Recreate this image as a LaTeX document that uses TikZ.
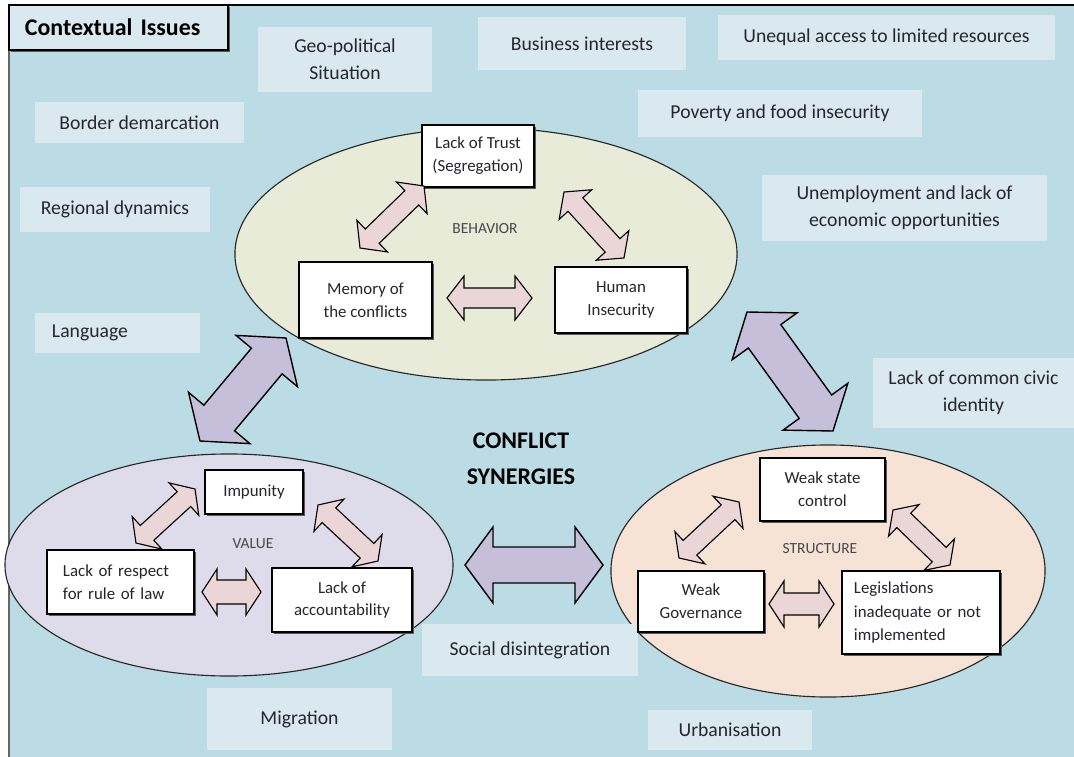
\documentclass[tikz,border=0pt]{standalone}
\usepackage{fontspec}
\setmainfont{Carlito}
\usetikzlibrary{calc,shapes.geometric,shadows}

\definecolor{bgblue}{HTML}{BCDCE5}
\definecolor{ctxfill}{HTML}{DAE9EF}
\definecolor{behfill}{HTML}{E9EBD9}
\definecolor{valfill}{HTML}{DEDCEA}
\definecolor{strfill}{HTML}{F7E3D5}
\definecolor{pinkarr}{HTML}{EAD5D7}
\definecolor{purparr}{HTML}{C6BFDA}
\definecolor{textc}{HTML}{25262E}

% double block arrow between two named points
% #1 style, #2 from, #3 to, #4 head length, #5 shaft half width, #6 head half width (px)
\newcommand{\blockarrow}[6]{%
  \draw[#1] (#2)
    -- ($($(#2)!#4*0.025cm!(#3)$)!#6*0.025cm!90:(#3)$)
    -- ($($(#2)!#4*0.025cm!(#3)$)!#5*0.025cm!90:(#3)$)
    -- ($($(#3)!#4*0.025cm!(#2)$)!#5*0.025cm!-90:(#2)$)
    -- ($($(#3)!#4*0.025cm!(#2)$)!#6*0.025cm!-90:(#2)$)
    -- (#3)
    -- ($($(#3)!#4*0.025cm!(#2)$)!#6*0.025cm!90:(#2)$)
    -- ($($(#3)!#4*0.025cm!(#2)$)!#5*0.025cm!90:(#2)$)
    -- ($($(#2)!#4*0.025cm!(#3)$)!#5*0.025cm!-90:(#3)$)
    -- ($($(#2)!#4*0.025cm!(#3)$)!#6*0.025cm!-90:(#3)$)
    -- cycle;
}

\tikzset{
  ctx/.style={fill=ctxfill, inner sep=0pt, align=center, text=textc,
    font=\fontsize{14}{19}\selectfont},
  issue/.style={draw=black, line width=0.9pt, fill=white, inner sep=0pt,
    align=center, text=textc, font=\fontsize{12}{16.3}\selectfont,
    drop shadow={shadow xshift=1.3pt, shadow yshift=-1.3pt, fill=black!65, opacity=1}},
  area/.style={ellipse, draw=black!85, line width=0.8pt, inner sep=0pt},
  arealabel/.style={text=textc!85, font=\fontsize{11}{13}\selectfont},
  pinkarrow/.style={fill=pinkarr, draw=black, line width=0.8pt, line join=miter},
  purparrow/.style={fill=purparr, draw=black, line width=1pt, line join=miter},
}

\begin{document}
\begin{tikzpicture}[x=0.025cm, y=-0.025cm]
\useasboundingbox (0,0) rectangle (1074,757);

% background
\fill[bgblue] (9,5) rectangle (1074,757);
\draw[black!60, line width=0.8pt] (9,5) -- (9,757);
\draw[black, line width=1pt] (9,5) -- (1074,5);

% the three areas
\node[area, fill=behfill, minimum width=12.55cm, minimum height=6.3cm] (behavior) at (486,254) {};
\node[area, fill=valfill, minimum width=11.2cm, minimum height=5.55cm] (value) at (229,565) {};
\node[area, fill=strfill, minimum width=10.85cm, minimum height=6.3cm] (structure) at (828,571) {};

\node[arealabel] (behlab) at (485,229) {BEHAVIOR};
\node[arealabel] (vallab) at (253,544) {VALUE};
\node[arealabel] (strlab) at (820,549) {STRUCTURE};

% contextual issues
\node[ctx, minimum width=4.35cm, minimum height=1.625cm] (geo) at (345,59.5) {Geo-political\\Situation};
\node[ctx, minimum width=5.2cm, minimum height=1.325cm] (business) at (582,43.5) {Business interests};
\node[ctx, minimum width=8.425cm, minimum height=1.125cm] (unequal) at (886.5,37.5) {Unequal access to limited resources};
\node[ctx, minimum width=5.225cm, minimum height=1.025cm] (border) at (139.5,122.5) {Border demarcation};
\node[ctx, minimum width=7.1cm, minimum height=1.175cm] (poverty) at (780,113.5) {Poverty and food insecurity};
\node[ctx, minimum width=4.75cm, minimum height=1.125cm] (regional) at (115,209.5) {Regional dynamics};
\node[ctx, minimum width=7.125cm, minimum height=1.65cm] (unemploy) at (904.5,208) {Unemployment and lack of\\economic opportunities};
\node[ctx, minimum height=1cm, text width=3.275cm, inner xsep=0.425cm, align=left] (language) at (117.5,333) {Language};
\node[ctx, minimum width=5.025cm, minimum height=1.75cm] (civic) at (973.5,393) {Lack of common civic\\identity};
\node[ctx, minimum width=5.4cm, minimum height=1.3cm] (social) at (530,650) {Social disintegration};
\node[ctx, minimum width=4.625cm, minimum height=1.55cm] (migration) at (299.5,719) {Migration};
\node[ctx, minimum width=4.1cm, minimum height=1cm] (urban) at (730,730) {Urbanisation};

% title
\node[draw=black, line width=1pt, fill=ctxfill, inner ysep=0pt, inner xsep=0.4cm,
  text width=4.675cm, minimum height=1.125cm, align=left, text=black,
  font=\bfseries\fontsize{17}{20}\selectfont,
  drop shadow={shadow xshift=1.3pt, shadow yshift=-1.3pt, fill=black!65, opacity=1}]
  (title) at (118.5,27.5) {Contextual Issues};

\node[text=black, font=\bfseries\fontsize{17}{25.5}\selectfont, align=center] (synergy) at (521,459) {CONFLICT\\SYNERGIES};

% behavior
\node[issue, minimum width=2.8cm, minimum height=1.55cm] (trust) at (478,156) {Lack of Trust\\(Segregation)};
\node[issue, minimum width=3.325cm, minimum height=1.9cm] (memory) at (365.5,300) {Memory of\\the conflicts};
\node[issue, minimum width=3.3cm, minimum height=1.65cm] (human) at (621,300) {Human\\Insecurity};

% value
\node[issue, minimum width=2.45cm, minimum height=1.1cm] (impunity) at (254,492) {Impunity};
\node[issue, minimum height=1.6cm, text width=2.875cm, inner xsep=0.4cm, align=left] (respect) at (120.5,582) {Lack of respect\\for rule of law};
\node[issue, minimum width=3.5cm, minimum height=1.6cm] (account) at (342,600) {Lack of\\accountability};

% structure
\node[issue, minimum width=3.125cm, minimum height=1.575cm] (state) at (822.5,489.5) {Weak state\\control};
\node[issue, minimum width=3.15cm, minimum height=1.525cm] (gov) at (701,601.5) {Weak\\Governance};
\node[issue, minimum height=2.075cm, text width=3.35cm, inner xsep=0.3cm, align=left,
  font=\fontsize{12}{16.5}\selectfont] (legis) at (921,612.5) {Legislations\\inadequate or not\\implemented};

% arrow ends
\coordinate (memtrust-a) at (360,248);   \coordinate (memtrust-b) at (424,186);
\coordinate (trusthum-a) at (564,192);   \coordinate (trusthum-b) at (624,258);
\coordinate (memhum-a) at (447,298);     \coordinate (memhum-b) at (532,298);
\coordinate (resimp-a) at (136,543);     \coordinate (resimp-b) at (195,489);
\coordinate (impacc-a) at (318,505);     \coordinate (impacc-b) at (378,561);
\coordinate (resacc-a) at (202,592);     \coordinate (resacc-b) at (261,592);
\coordinate (govstate-a) at (679,558);   \coordinate (govstate-b) at (739,502);
\coordinate (statelegis-a) at (893,510); \coordinate (statelegis-b) at (950,565);
\coordinate (govlegis-a) at (769,604);   \coordinate (govlegis-b) at (834,604);
\coordinate (behval-a) at (200,441);     \coordinate (behval-b) at (286,338);
\coordinate (behstr-a) at (747,312);     \coordinate (behstr-b) at (833,431);
\coordinate (valstr-a) at (465,565);     \coordinate (valstr-b) at (603,565);

\blockarrow{pinkarrow}{memtrust-a}{memtrust-b}{17}{10}{22}
\blockarrow{pinkarrow}{trusthum-a}{trusthum-b}{17}{10}{22}
\blockarrow{pinkarrow}{memhum-a}{memhum-b}{17}{10}{22}
\blockarrow{pinkarrow}{resimp-a}{resimp-b}{15}{10}{22}
\blockarrow{pinkarrow}{impacc-a}{impacc-b}{15}{10}{22}
\blockarrow{pinkarrow}{resacc-a}{resacc-b}{15}{12}{23}
\blockarrow{pinkarrow}{govstate-a}{govstate-b}{15}{10}{22}
\blockarrow{pinkarrow}{statelegis-a}{statelegis-b}{15}{10}{22}
\blockarrow{pinkarrow}{govlegis-a}{govlegis-b}{15}{11}{23}

\blockarrow{purparrow}{behval-a}{behval-b}{30}{20}{40}
\blockarrow{purparrow}{behstr-a}{behstr-b}{30}{20}{40}
\blockarrow{purparrow}{valstr-a}{valstr-b}{28}{18}{38}
\end{tikzpicture}
\end{document}
